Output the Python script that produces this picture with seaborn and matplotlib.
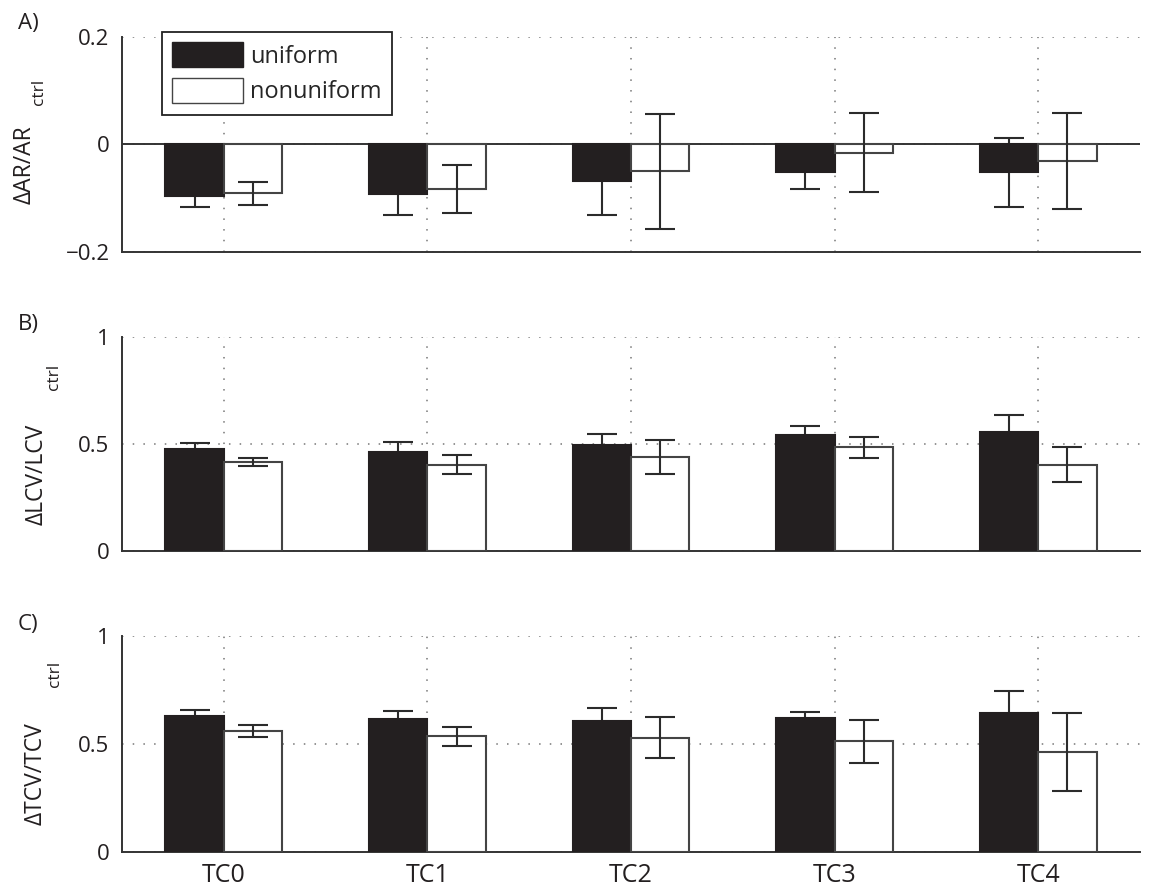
import pandas as pd
import seaborn as sns
import matplotlib.pyplot as plt
from matplotlib.patches import Patch

# data
categories = ["TC0", "TC1", "TC2", "TC3", "TC4"]
conditions = ["uniform", "nonuniform"]

ar_uniform = [-0.095, -0.092, -0.068, -0.052, -0.052]
ar_uniform_err = [0.022, 0.040, 0.064, 0.030, 0.064]
ar_nonuniform = [-0.091, -0.083, -0.050, -0.015, -0.031]
ar_nonuniform_err = [0.021, 0.044, 0.107, 0.074, 0.090]

lcv_uniform = [0.478, 0.464, 0.497, 0.540, 0.554]
lcv_uniform_err = [0.027, 0.044, 0.048, 0.045, 0.080]
lcv_nonuniform = [0.415, 0.404, 0.441, 0.485, 0.404]
lcv_nonuniform_err = [0.020, 0.045, 0.080, 0.048, 0.083]

tcv_uniform = [0.628, 0.616, 0.605, 0.622, 0.642]
tcv_uniform_err = [0.031, 0.037, 0.063, 0.028, 0.105]
tcv_nonuniform = [0.559, 0.535, 0.528, 0.512, 0.463]
tcv_nonuniform_err = [0.028, 0.045, 0.095, 0.098, 0.179]

sns.set_style("white")
plt.rcParams["font.family"] = ["Open Sans", "DejaVu Sans"]
ink = "#231f20"

panels = [
    ("A)", "ΔAR/AR", ar_uniform, ar_uniform_err, ar_nonuniform, ar_nonuniform_err,
     (-0.2, 0.2), [-0.2, 0, 0.2], ["\u22120.2", "0", "0.2"]),
    ("B)", "ΔLCV/LCV", lcv_uniform, lcv_uniform_err, lcv_nonuniform, lcv_nonuniform_err,
     (0, 1), [0, 0.5, 1], ["0", "0.5", "1"]),
    ("C)", "ΔTCV/TCV", tcv_uniform, tcv_uniform_err, tcv_nonuniform, tcv_nonuniform_err,
     (0, 1), [0, 0.5, 1], ["0", "0.5", "1"]),
]

# label placement (axes coords): main label x, y ; "ctrl" x, y
label_pos = [(-0.096, 0.405, -0.082, 0.744),
             (-0.084, 0.357, -0.067, 0.813),
             (-0.085, 0.361, -0.066, 0.824)]
tag_y = [0.962, 0.624, 0.287]

fig = plt.figure(figsize=(11.58, 8.90), dpi=100)
positions = [
    [0.1054, 0.7169, 0.879, 0.2416],
    [0.1054, 0.3809, 0.879, 0.2404],
    [0.1054, 0.0427, 0.879, 0.2427],
]

for k, (tag, ylab, u, ue, n, ne, ylim, yt, ytl) in enumerate(panels):
    ax = fig.add_axes(positions[k])
    df = pd.DataFrame({
        "tc": categories * 2,
        "cond": ["uniform"] * 5 + ["nonuniform"] * 5,
        "val": u + n,
    })
    sns.barplot(data=df, x="tc", y="val", hue="cond", hue_order=conditions,
                palette={"uniform": ink, "nonuniform": "white"},
                width=0.574, gap=0, errorbar=None, legend=False, ax=ax,
                saturation=1, zorder=3)
    # uniform error bars sit behind the black bars, nonuniform ones on top
    for cont, means, errs, ec, z in zip(ax.containers, [u, n], [ue, ne],
                                        [ink, "#444444"], [2.5, 4]):
        xs = []
        for bar in cont:
            bar.set_edgecolor(ec)
            bar.set_linewidth(1.5)
            xs.append(bar.get_x() + bar.get_width() / 2)
        ax.errorbar(xs, means, yerr=errs, fmt="none", ecolor="#2b2b2b",
                    elinewidth=1.5, capsize=11, capthick=1.5, zorder=z)

    ax.set_xlim(-0.5, 4.5)
    ax.set_ylim(*ylim)
    ax.set_yticks(yt)
    ax.set_yticklabels(ytl)
    ax.set_xticks(range(5))
    if k == 2:
        ax.set_xticklabels(categories, fontsize=18, color=ink)
    else:
        ax.set_xticklabels([])
    ax.tick_params(axis="y", length=0, labelsize=16, labelcolor=ink, pad=9)
    ax.tick_params(axis="x", length=0, labelcolor=ink, pad=8)
    ax.set_xlabel("")
    ax.set_ylabel("")
    ax.grid(True, linestyle=(0, (1, 6)), color="#777777", linewidth=1.1)
    ax.set_axisbelow(True)
    for s in ["top", "right"]:
        ax.spines[s].set_visible(False)
    for s in ["left", "bottom"]:
        ax.spines[s].set_color("#333333")
        ax.spines[s].set_linewidth(1.4)
    if k == 0:
        ax.axhline(0, color="#333333", linewidth=1.4, zorder=2)

    # y label with raised "ctrl" subscript
    mx, my, cx, cy = label_pos[k]
    ax.text(mx, my, ylab, transform=ax.transAxes, rotation=90,
            ha="center", va="center", fontsize=16.5, color=ink)
    ax.text(cx, cy, "ctrl", transform=ax.transAxes, rotation=90,
            ha="center", va="center", fontsize=12.5, color=ink)
    fig.text(0.0155, tag_y[k], tag, fontsize=16, color=ink, ha="left", va="bottom")

    if k == 0:
        handles = [Patch(facecolor=ink, edgecolor=ink, label="uniform"),
                   Patch(facecolor="white", edgecolor="#444444", label="nonuniform")]
        leg = ax.legend(handles=handles, loc="upper left",
                        bbox_to_anchor=(0.1396, 0.9645), bbox_transform=fig.transFigure,
                        borderaxespad=0, fontsize=17, handlelength=3.0,
                        handleheight=1.23, handletextpad=0.3, labelspacing=0.4,
                        borderpad=0.45, fancybox=False, framealpha=1,
                        edgecolor="#222222")
        leg.get_frame().set_linewidth(1.3)
        leg.set_zorder(10)

fig.savefig("out.png", dpi=100)
